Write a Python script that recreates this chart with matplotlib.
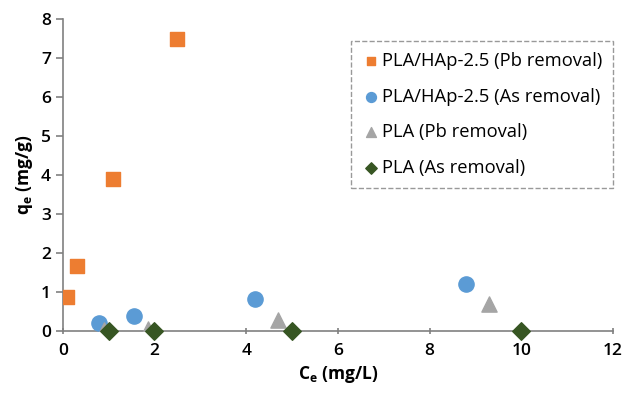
import matplotlib
matplotlib.use('Agg')
import matplotlib.pyplot as plt

plt.rcParams['font.family'] = ['Open Sans', 'DejaVu Sans']

PB_HAP_X = [0.1, 0.3, 1.1, 2.5]
PB_HAP_Y = [0.87, 1.67, 3.9, 7.5]
AS_HAP_X = [0.8, 1.55, 4.2, 8.8]
AS_HAP_Y = [0.22, 0.4, 0.82, 1.2]
PB_PLA_X = [0.9, 1.85, 4.7, 9.3]
PB_PLA_Y = [0.02, 0.05, 0.28, 0.7]
AS_PLA_X = [1.0, 2.0, 5.0, 10.0]
AS_PLA_Y = [0.0, 0.0, 0.0, 0.0]

fig = plt.figure(figsize=(6.28, 3.98), dpi=100)
ax = fig.add_axes([0.1, 0.168, 0.876, 0.784])

ax.scatter(PB_HAP_X, PB_HAP_Y, marker='s', s=90, color='#ED7D31',
           label='PLA/HAp-2.5 (Pb removal)', zorder=3)
ax.scatter(AS_HAP_X, AS_HAP_Y, marker='o', s=120, color='#5B9BD5',
           label='PLA/HAp-2.5 (As removal)', zorder=3)
ax.scatter(PB_PLA_X, PB_PLA_Y, marker='^', s=120, color='#A5A5A5',
           label='PLA (Pb removal)', zorder=3)
ax.scatter(AS_PLA_X, AS_PLA_Y, marker='D', s=80, color='#375623',
           label='PLA (As removal)', zorder=4, clip_on=False)

ax.set_xlim(0, 12)
ax.set_ylim(0, 8)
ax.set_xticks(range(0, 13, 2))
ax.set_yticks(range(0, 9))
for side in ('top', 'right'):
    ax.spines[side].set_visible(False)
for side in ('left', 'bottom'):
    ax.spines[side].set_color('#808080')
    ax.spines[side].set_linewidth(1.2)
ax.tick_params(axis='both', colors='#808080', labelcolor='black',
               labelsize=12.5, length=5, width=1.2)
ax.tick_params(axis='x', direction='inout', pad=6)
for lbl in ax.get_xticklabels() + ax.get_yticklabels():
    lbl.set_fontweight('semibold')

ax.set_xlabel('C$_\\mathregular{e}$ (mg/L)', fontsize=12.5, fontweight='bold')
ax.set_ylabel('q$_\\mathregular{e}$ (mg/g)', fontsize=12.5, fontweight='bold')

leg = ax.legend(loc='upper right', bbox_to_anchor=(1.0, 0.929), fontsize=13.2,
                frameon=True, fancybox=False, handletextpad=0.15,
                handlelength=0.9, markerscale=0.65, labelspacing=0.95,
                borderpad=0.6, borderaxespad=0)
frame = leg.get_frame()
frame.set_edgecolor('#808080')
frame.set_linestyle('--')
frame.set_linewidth(1.0)

fig.savefig('out.png', dpi=100)
